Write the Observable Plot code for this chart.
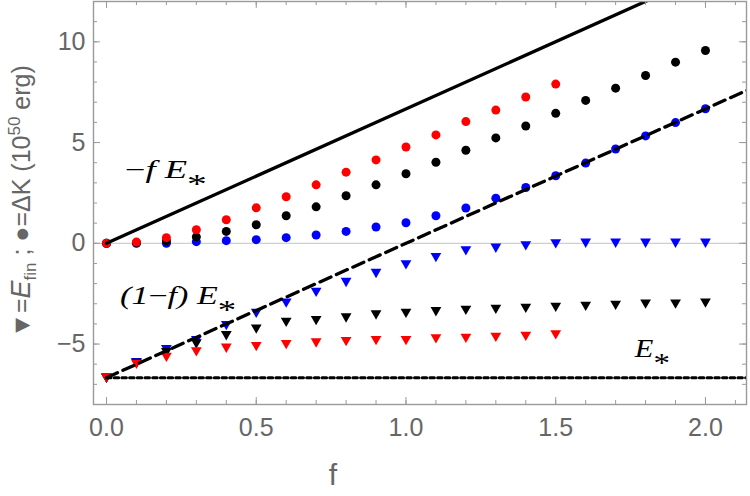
<!DOCTYPE html>
<html><head><meta charset="utf-8">
<script src="https://cdn.jsdelivr.net/npm/d3@7"></script>
<script src="https://cdn.jsdelivr.net/npm/@observablehq/plot@0.6"></script>
<style>body{margin:0;background:#fff}#chart{width:750px;height:496px}</style>
</head><body><div id="chart"></div>
<script>
// ---- data ----
const fValues = [0,0.1,0.2,0.3,0.4,0.5,0.6,0.7,0.8,0.9,1.0,1.1,1.2,1.3,1.4,1.5,1.6,1.7,1.8,1.9,2.0];
// ΔK (circles)
const redK   = [0,0.06,0.28,0.67,1.17,1.76,2.31,2.90,3.53,4.14,4.78,5.38,6.04,6.61,7.26,7.90];
const blackK = [0,0.03,0.12,0.32,0.59,0.92,1.37,1.81,2.36,2.90,3.45,4.02,4.62,5.23,5.82,6.45,7.09,7.70,8.33,8.99,9.57];
const blueK  = [0,0,0,0.08,0.13,0.18,0.28,0.41,0.59,0.81,1.02,1.37,1.75,2.24,2.77,3.35,3.98,4.68,5.33,5.99,6.68];
// E_fin (triangles)
const redE   = [-6.62,-5.93,-5.58,-5.31,-5.13,-5.05,-4.95,-4.87,-4.80,-4.75,-4.75,-4.67,-4.64,-4.59,-4.54,-4.47];
const blackE = [-6.62,-5.88,-5.35,-4.92,-4.51,-4.18,-3.85,-3.76,-3.63,-3.48,-3.40,-3.32,-3.25,-3.20,-3.15,-3.10,-3.05,-3.00,-2.94,-2.94,-2.89];
const blueE  = [-6.62,-5.85,-5.20,-4.75,-4.01,-3.40,-2.89,-2.36,-1.87,-1.42,-0.99,-0.63,-0.30,-0.17,-0.05,0.05,0.08,0.08,0.08,0.08,0.08];
const E_STAR = -6.67;
const lineF = [0, 2.2];
// ticks
const xMajorTicks = [0,0.5,1,1.5,2];
const xMinorTicks = [0,0.1,0.2,0.3,0.4,0.5,0.6,0.7,0.8,0.9,1.0,1.1,1.2,1.3,1.4,1.5,1.6,1.7,1.8,1.9,2.0,2.1];
const yMajorTicks = [-5,0,5,10];
const yMinorTicks = [-7,-6,-5,-4,-3,-2,-1,0,1,2,3,4,5,6,7,8,9,10,11];
// annotation anchors (f, value)
const annotF = [0.063, 0.047, 1.766];
const annotV = [3.23, -3.02, -5.66];

const rows = (vals) => vals.map((v, i) => ({f: fValues[i], v}));
const triDown = {draw(ctx, size) {
  const y = Math.sqrt(size / (3 * Math.sqrt(3)));
  const s3 = Math.sqrt(3);
  ctx.moveTo(0, 2 * y); ctx.lineTo(-s3 * y, -y); ctx.lineTo(s3 * y, -y); ctx.closePath();
}};

const W = 750, H = 496, mT = 1, mB = 92, mL = 93, mR = 4;
const innerH = H - mT - mB, innerW = W - mL - mR;
const tickGray = "#9a9a9a";

const plot = Plot.plot({
  width: W, height: H,
  marginTop: mT, marginBottom: mB, marginLeft: mL, marginRight: mR,
  x: {domain: [-0.0434, 2.137]},
  y: {domain: [-8, 12]},
  style: {fontSize: "25px", fontFamily: "'Liberation Sans', Arial, sans-serif", color: "#666", background: "#fff"},
  marks: [
    Plot.ruleY([0], {stroke: "#cfcfcf", strokeWidth: 1.2}),
    Plot.dot(rows(blueK),  {x: "f", y: "v", r: 4.5, fill: "#0000ff", stroke: null}),
    Plot.dot(rows(blackK), {x: "f", y: "v", r: 4.5, fill: "#000", stroke: null}),
    Plot.dot(rows(redK),   {x: "f", y: "v", r: 4.5, fill: "#ff0000", stroke: null}),
    Plot.dot(rows(blueE),  {x: "f", y: "v", r: 4, symbol: triDown, fill: "#0000ff", stroke: null}),
    Plot.dot(rows(blackE), {x: "f", y: "v", r: 4, symbol: triDown, fill: "#000", stroke: null}),
    Plot.dot(rows(redE),   {x: "f", y: "v", r: 4, symbol: triDown, fill: "#ff0000", stroke: null}),
    Plot.line(lineF.map(f => ({f, v: -f * E_STAR})), {x: "f", y: "v", stroke: "#000", strokeWidth: 3.3, clip: true}),
    Plot.line(lineF.map(f => ({f, v: (1 - f) * E_STAR})), {x: "f", y: "v", stroke: "#000", strokeWidth: 3.3, strokeDasharray: "12,6", clip: true}),
    Plot.line(lineF.map(f => ({f, v: E_STAR})), {x: "f", y: "v", stroke: "#000", strokeWidth: 3, strokeDasharray: "4.5,3.2", clip: true}),
    // inward ticks
    Plot.tickX(xMinorTicks, {x: d => d, stroke: tickGray, insetTop: innerH - 4}),
    Plot.tickX(xMajorTicks, {x: d => d, stroke: tickGray, insetTop: innerH - 7}),
    Plot.tickX(xMinorTicks, {x: d => d, stroke: tickGray, insetBottom: innerH - 4}),
    Plot.tickX(xMajorTicks, {x: d => d, stroke: tickGray, insetBottom: innerH - 7}),
    Plot.tickY(yMinorTicks, {y: d => d, stroke: tickGray, insetRight: innerW - 4}),
    Plot.tickY(yMajorTicks, {y: d => d, stroke: tickGray, insetRight: innerW - 7}),
    Plot.tickY(yMinorTicks, {y: d => d, stroke: tickGray, insetLeft: innerW - 4}),
    Plot.tickY(yMajorTicks, {y: d => d, stroke: tickGray, insetLeft: innerW - 7}),
    Plot.frame({stroke: tickGray, strokeWidth: 1.4}),
    Plot.axisX(xMajorTicks, {tickSize: 0, tickPadding: 14, tickFormat: d3.format(".1f"), label: null, fontSize: 25}),
    Plot.axisY(yMajorTicks, {tickSize: 0, tickPadding: 8, label: null, fontSize: 25})
  ]
});

const sx = plot.scale("x"), sy = plot.scale("y");
const svg = d3.select(plot);

function mathText(x, y, parts, {size = 25, length = null, adjust = "spacingAndGlyphs", family = "'Liberation Serif', 'Times New Roman', serif", fill = "#000", anchor = "start", transform = null} = {}) {
  const t = svg.append("text")
    .attr("x", x).attr("y", y)
    .attr("font-family", family).attr("font-size", size)
    .attr("fill", fill).attr("text-anchor", anchor);
  if (transform) t.attr("transform", transform);
  if (length) t.attr("textLength", length).attr("lengthAdjust", adjust);
  let shift = 0;
  for (const p of parts) {
    const ts = t.append("tspan").text(p.t);
    if (p.italic) ts.attr("font-style", "italic");
    if (p.size) ts.attr("font-size", p.size);
    const target = p.dy || 0;
    if (target !== shift) { ts.attr("dy", target - shift); shift = target; }
  }
  return t;
}

// annotations
mathText(sx.apply(annotF[0]), sy.apply(annotV[0]), [
  {t: "−"}, {t: "f", italic: true}, {t: " "}, {t: "E", italic: true}, {t: "*", dy: 15, size: 27}
], {length: 82});
mathText(sx.apply(annotF[1]), sy.apply(annotV[1]), [
  {t: "(1", italic: true}, {t: "−"}, {t: "f)", italic: true}, {t: " "}, {t: "E", italic: true}, {t: "*", dy: 15, size: 27}
], {length: 116});
mathText(sx.apply(annotF[2]), sy.apply(annotV[2]), [
  {t: "E", italic: true}, {t: "*", dy: 15, size: 27}
], {length: 35});

// x label
svg.append("text").attr("x", sx.apply(0.758)).attr("y", 485)
  .attr("text-anchor", "middle").attr("font-size", 30).attr("fill", "#666")
  .attr("font-family", "'Liberation Sans', Arial, sans-serif").text("f");

// y label
mathText(0, 0, [
  {t: "▼="}, {t: "E", italic: true, size: 27}, {t: "fin", size: 17, dy: 6}, {t: " ; ●=ΔK (10"}, {t: "50", size: 17, dy: -10}, {t: " erg)"}
], {size: 25, family: "'Liberation Sans', Arial, sans-serif", fill: "#666", anchor: "middle", transform: `translate(30,${(sy.apply(12) + sy.apply(-8)) / 2 - 1}) rotate(-90)`});

document.getElementById("chart").appendChild(plot);
</script>
</body></html>
